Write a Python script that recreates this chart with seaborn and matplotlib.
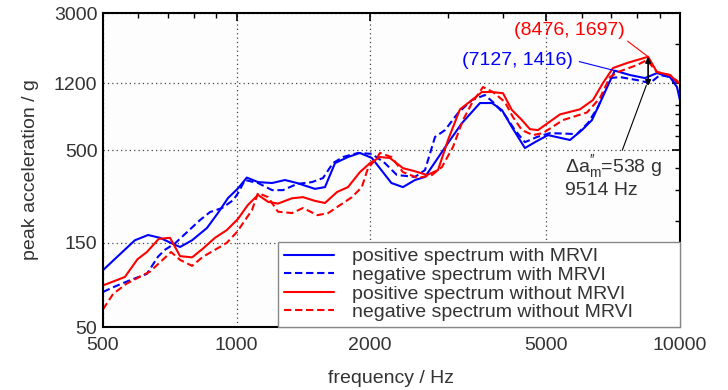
import numpy as np
import pandas as pd
import matplotlib
matplotlib.use('Agg')
import matplotlib.pyplot as plt
import matplotlib.ticker as mticker
import seaborn as sns

# values (frequency in Hz, peak acceleration in g)
f_pos_mrvi = [500, 590, 632, 672, 727, 746, 794, 858, 908, 957, 1008, 1055, 1118, 1203, 1286, 1369,
              1503, 1583, 1668, 1784, 1898, 2020, 2085, 2235, 2373, 2526, 2661, 2803, 2999, 3225,
              3540, 3768, 3968, 4179, 4471, 4710, 5039, 5649, 6012, 6332, 6600, 7127, 7713, 8339,
              8875, 9496, 9847, 10000]
a_pos_mrvi = [105, 155, 166, 160, 146, 142, 155, 182, 221, 269, 305, 351, 331, 327, 340, 327,
              303, 310, 424, 459, 484, 453, 409, 327, 310, 340, 354, 429, 551, 715,
              928, 928, 847, 678, 516, 557, 611, 573, 652, 743, 928, 1416, 1337, 1285,
              1372, 1302, 1143, 965]

f_neg_mrvi = [500, 527, 575, 628, 665, 690, 727, 769, 828, 872, 928, 984, 1008, 1045, 1118, 1203,
              1273, 1369, 1480, 1567, 1650, 1738, 1880, 2020, 2161, 2300, 2526, 2661, 2803, 2952,
              3158, 3396, 3633, 3787, 4030, 4245, 4471, 4759, 5092, 5858, 6202, 6532, 6952, 7323,
              8000, 8558, 9014, 9496, 9920]
a_neg_mrvi = [79, 84, 92, 100, 125, 137, 149, 170, 202, 224, 236, 262, 287, 340, 327, 298,
              298, 323, 331, 349, 424, 459, 484, 478, 424, 363, 354, 387, 596, 652,
              814, 965, 1030, 940, 794, 652, 557, 596, 627, 619, 715, 880, 1285, 1302,
              1252, 1204, 1337, 1302, 1204]

f_pos_none = [500, 560, 598, 628, 668, 708, 746, 794, 840, 894, 951, 1008, 1060, 1118, 1178, 1240,
              1334, 1412, 1503, 1583, 1686, 1784, 1898, 2000, 2106, 2218, 2373, 2526, 2689, 2847,
              2999, 3191, 3396, 3575, 3768, 3990, 4179, 4402, 4589, 4784, 5363, 5950, 6365, 6704,
              7063, 7593, 8476, 8875, 9496, 9920]
a_pos_none = [86, 96, 121, 133, 158, 160, 126, 124, 139, 160, 177, 205, 245, 280, 256, 250,
              268, 272, 259, 252, 291, 310, 377, 424, 459, 453, 397, 381, 363, 387,
              573, 855, 965, 1071, 1071, 1055, 847, 743, 660, 652, 800, 855, 965, 1204,
              1465, 1563, 1697, 1390, 1337, 1204]

f_neg_none = [500, 527, 565, 638, 712, 746, 794, 840, 904, 951, 1003, 1084, 1118, 1178, 1240, 1334,
              1412, 1523, 1610, 1711, 1821, 1917, 1979, 2073, 2106, 2235, 2373, 2566, 2759, 2906,
              3077, 3241, 3396, 3596, 3787, 4030, 4201, 4402, 4661, 4910, 5447, 6169, 6600, 6952,
              7247, 8000, 8426, 8875, 9496, 9920]
a_neg_none = [63, 77, 88, 103, 133, 120, 111, 125, 139, 150, 173, 230, 287, 272, 225, 221,
              236, 215, 221, 245, 272, 310, 397, 453, 484, 459, 377, 349, 363, 403,
              523, 743, 928, 1143, 1071, 940, 773, 652, 611, 627, 743, 820, 990, 1302,
              1390, 1523, 1625, 1390, 1337, 1220]

labels = ['positive spectrum with MRVI', 'negative spectrum with MRVI',
          'positive spectrum without MRVI', 'negative spectrum without MRVI']

x_ticks = [500, 1000, 2000, 5000, 10000]
y_ticks = [50, 150, 500, 1200, 3000]

peak_red = (8476, 1697)
peak_blue = (7127, 1416)
delta_a = 538

sns.set_theme(style='white')
plt.rcParams['font.family'] = ['Liberation Sans', 'DejaVu Sans']
plt.rcParams['mathtext.fontset'] = 'custom'
plt.rcParams['mathtext.rm'] = 'Liberation Sans'
txt = '#333333'
fs = 14

fig = plt.figure(figsize=(7.28, 3.9), dpi=100)
ax = fig.add_axes([0.1415, 0.1615, 0.7925, 0.805])
ax.set_facecolor('#fdfdfd')

series = [(f_pos_mrvi, a_pos_mrvi, 'blue', '-', 1.5),
          (f_neg_mrvi, a_neg_mrvi, 'blue', '--', 1.5),
          (f_pos_none, a_pos_none, 'red', '-', 1.5),
          (f_neg_none, a_neg_none, 'red', '--', 1.5)]
for (f, a, c, ls, lw), lab in zip(series, labels):
    df = pd.DataFrame({'f': f, 'a': a})
    sns.lineplot(data=df, x='f', y='a', ax=ax, color=c, linestyle=ls, lw=lw,
                 label=lab, estimator=None, sort=False)
for ln in ax.get_lines():
    if ln.get_linestyle() == '--':
        ln.set_dashes((3.5, 1.8))

ax.set_xscale('log')
ax.set_yscale('log')
ax.set_xlim(500, 10000)
ax.set_ylim(50, 3000)
ax.xaxis.set_major_locator(mticker.FixedLocator(x_ticks))
ax.xaxis.set_major_formatter(mticker.FixedFormatter([str(t) for t in x_ticks]))
ax.yaxis.set_major_locator(mticker.FixedLocator(y_ticks))
ax.yaxis.set_major_formatter(mticker.FixedFormatter([str(t) for t in y_ticks]))
ax.xaxis.set_minor_locator(mticker.LogLocator(subs=np.arange(2, 10)))
ax.yaxis.set_minor_locator(mticker.LogLocator(subs=np.arange(2, 10)))
ax.xaxis.set_minor_formatter(mticker.NullFormatter())
ax.yaxis.set_minor_formatter(mticker.NullFormatter())

ax.tick_params(which='both', direction='in', top=True, right=True, color='black',
               labelsize=fs, labelcolor=txt)
ax.tick_params(which='major', length=6, width=1.2)
ax.tick_params(which='minor', length=3.5, width=1)
ax.tick_params(axis='x', pad=7)
ax.tick_params(axis='y', pad=4)
for sp in ax.spines.values():
    sp.set_color('black')
    sp.set_linewidth(1.5)
ax.grid(True, which='major', color='#444444', linestyle=(0, (1, 2.5)), lw=0.9)

ax.set_xlabel('frequency / Hz', fontsize=fs, color=txt, labelpad=12)
ax.set_ylabel('peak acceleration / g', fontsize=fs, color=txt, labelpad=11)

leg = ax.legend(loc='lower left', bbox_to_anchor=(0.303, 0.0, 0.697, 0.3), mode='expand',
                fontsize=fs, frameon=True, fancybox=False, framealpha=1,
                edgecolor='#888888', borderpad=0.3, labelspacing=0.05,
                handlelength=2.6, handletextpad=0.9, borderaxespad=0)
leg.get_frame().set_linewidth(1.0)
for t in leg.get_texts():
    t.set_color(txt)

ax.annotate('(%d, %d)' % peak_red, xy=peak_red, xytext=(5620, 2400), color='red',
            fontsize=fs, ha='center', va='center',
            arrowprops=dict(arrowstyle='-', color='red', lw=0.8, relpos=(1, 0),
                            shrinkA=0, shrinkB=0))
ax.annotate('(%d, %d)' % peak_blue, xy=peak_blue, xytext=(4310, 1625), color='blue',
            fontsize=fs, ha='center', va='center',
            arrowprops=dict(arrowstyle='-', color='blue', lw=0.8, relpos=(1, 0.5),
                            shrinkA=2, shrinkB=0))
ax.annotate('', xy=(peak_red[0], peak_red[1]), xytext=(peak_red[0], peak_red[1] - delta_a),
            arrowprops=dict(arrowstyle='<|-|>', color='black', lw=1.2,
                            mutation_scale=8, shrinkA=0, shrinkB=0))
ax.annotate(r'$\mathregular{\Delta a^{\prime\prime}_m}$=%d g' % delta_a + '\n9514 Hz',
            xy=(8400, 1170), xytext=(5500, 480), color=txt, fontsize=fs,
            ha='left', va='top', linespacing=1.1,
            arrowprops=dict(arrowstyle='-', color='black', lw=0.8, relpos=(0.58, 1),
                            shrinkA=0, shrinkB=0))

fig.savefig('out.png', dpi=100, facecolor='white')
